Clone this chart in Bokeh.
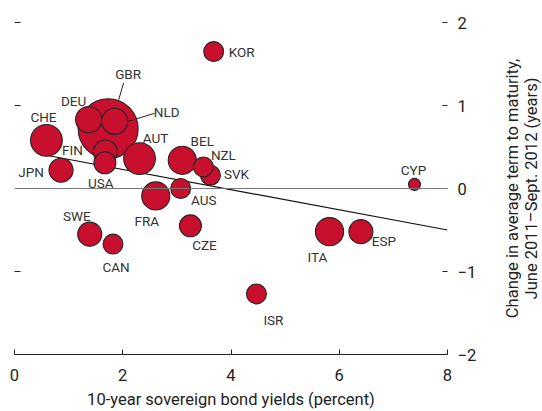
from bokeh.plotting import figure
from bokeh.models import ColumnDataSource, LinearAxis, FixedTicker, Span, Range1d
from bokeh.layouts import row
from bokeh.embed import file_html
from bokeh.resources import INLINE
from bokeh.core.properties import value
import math

# ---- data ----
countries = ["GBR", "CHE", "AUT", "FRA", "BEL", "ITA", "DEU", "NLD", "FIN", "JPN", "SWE",
             "ESP", "USA", "CZE", "KOR", "SVK", "NZL", "AUS", "CAN", "ISR", "CYP"]
bond_yields = [1.73, 0.59, 2.31, 2.61, 3.10, 5.82, 1.37, 1.85, 1.68, 0.86, 1.39,
               6.40, 1.67, 3.25, 3.68, 3.62, 3.49, 3.07, 1.82, 4.47, 7.39]
maturity_change = [0.72, 0.58, 0.36, -0.09, 0.34, -0.52, 0.83, 0.81, 0.44, 0.22, -0.55,
                   -0.52, 0.31, -0.45, 1.65, 0.16, 0.26, 0.00, -0.67, -1.27, 0.05]
bubble_weight = [100, 28, 28, 22, 22, 22, 19, 19, 16, 16, 16,
                 16, 13.4, 13.4, 11, 11, 11, 11, 11, 11, 4]
fit_intercept = 0.472
fit_slope = -0.1215
x_ticks = [0, 2, 4, 6, 8]
y_ticks = [-2, -1, 0, 1, 2]
x_title = "10-year sovereign bond yields (percent)"
y_title = "Change in average term to maturity,\nJune 2011\u2013Sept. 2012 (years)"

# label placement (screen px offsets from bubble centre; +dy = down)
label_offsets = {
    "KOR": (28, 0), "GBR": (20, -55), "DEU": (-15, -19), "NLD": (52, -9), "CHE": (-3, -23),
    "FIN": (-33, -2), "USA": (-4, 20), "JPN": (-30, 2), "AUT": (16, -21), "BEL": (20, -19),
    "NZL": (20, -12), "SVK": (26, -1), "AUS": (23, 11), "FRA": (-9, 25), "SWE": (-13, -18),
    "CAN": (3, 23), "CZE": (14, 19), "ISR": (17, 26), "ITA": (-12, 25), "ESP": (23, 9),
    "CYP": (-1, -14),
}

FONT = "Roboto"
RED = "#C8102E"
INK = "#222222"

H = 411
W1 = 500            # main chart width
W2 = 542 - W1       # strip holding the right-hand axis title
ML, MT = 14, 22
FW, FH = 433, 333
MR, MB = W1 - ML - FW, H - MT - FH

p = figure(width=W1, height=H, output_backend="svg", toolbar_location=None,
           x_range=Range1d(0, 8), y_range=Range1d(-2, 2),
           y_axis_location="right", min_border_left=ML, min_border_right=MR,
           min_border_top=MT, min_border_bottom=MB)
p.outline_line_color = None
p.grid.visible = False
p.background_fill_color = "white"
p.border_fill_color = "white"

# x axis
xa = p.xaxis[0]
xa.ticker = FixedTicker(ticks=x_ticks)
xa.major_tick_in = 5
xa.major_tick_out = 0
xa.minor_tick_line_color = None
xa.axis_line_color = INK
xa.major_tick_line_color = INK
xa.major_label_text_font = FONT
xa.major_label_text_font_size = "16.5px"
xa.major_label_text_color = INK
xa.major_label_standoff = 14
xa.axis_label = x_title
xa.axis_label_text_font = FONT
xa.axis_label_text_font_size = "16.5px"
xa.axis_label_text_font_style = "normal"
xa.axis_label_text_color = INK
xa.axis_label_standoff = 6

# right y axis (ticks + numbers)
ya = p.yaxis[0]
ya.ticker = FixedTicker(ticks=y_ticks)
ya.major_tick_in = 5
ya.major_tick_out = 0
ya.minor_tick_line_color = None
ya.axis_line_color = None
ya.major_tick_line_color = INK
ya.major_label_overrides = {-2: "\u22122", -1: "\u22121"}
ya.major_label_text_font = FONT
ya.major_label_text_font_size = "16.5px"
ya.major_label_text_color = INK
ya.major_label_standoff = 10

# left tick marks only
la = LinearAxis(ticker=FixedTicker(ticks=[-1, 1, 2]), major_tick_in=6, major_tick_out=0,
                axis_line_color=None, major_tick_line_color=INK,
                minor_tick_line_color=None,
                major_label_overrides={-1: "", 1: "", 2: ""},
                major_label_standoff=0)
p.add_layout(la, "left")

# zero line
p.add_layout(Span(location=0, dimension="width", line_color="#777777", line_width=1.2))

# fitted line
x0 = min(bond_yields)
x1 = 8
p.line([x0, x1], [fit_intercept + fit_slope * x0, fit_intercept + fit_slope * x1],
       line_color="#111111", line_width=1.2)

# bubbles
sizes = [6 * math.sqrt(w) for w in bubble_weight]
src = ColumnDataSource(dict(x=bond_yields, y=maturity_change, size=sizes, name=countries,
                            dx=[label_offsets[c][0] for c in countries],
                            dy=[label_offsets[c][1] for c in countries]))
p.scatter("x", "y", size="size", source=src, fill_color=RED, line_color=INK,
          line_width=1.1)

# leader lines (GBR, NLD)
ux, uy = 8 / FW, 4 / FH
leaders = {"GBR": ((15.5, -46), (10.5, -29)), "NLD": ((14, 0), (40, -8))}
for c, ((ax_, ay_), (bx_, by_)) in leaders.items():
    i = countries.index(c)
    cx, cy = bond_yields[i], maturity_change[i]
    p.line([cx + ax_ * ux, cx + bx_ * ux], [cy - ay_ * uy, cy - by_ * uy],
           line_color=INK, line_width=1)

p.text("x", "y", text="name", x_offset="dx", y_offset="dy", source=src,
       text_font=value(FONT), text_font_size="13.5px", text_color="#333333",
       text_align="center", text_baseline="middle")

# narrow strip on the right: its left-axis title reads bottom to top
q = figure(width=W2, height=H, output_backend="svg", toolbar_location=None,
           x_range=Range1d(0, 1), y_range=Range1d(-2, 2), x_axis_location=None,
           y_axis_location="left", min_border_left=0, min_border_right=0,
           min_border_top=MT, min_border_bottom=MB)
q.outline_line_color = None
q.grid.visible = False
q.border_fill_color = "white"
q.background_fill_color = "white"
qa = q.yaxis[0]
qa.ticker = FixedTicker(ticks=[])
qa.axis_line_color = None
qa.major_tick_line_color = None
qa.minor_tick_line_color = None
qa.major_tick_in = 0
qa.major_tick_out = 0
qa.major_label_standoff = 0
qa.axis_label = y_title
qa.axis_label_standoff = 0
qa.axis_label_text_font = FONT
qa.axis_label_text_font_size = "16.5px"
qa.axis_label_text_font_style = "normal"
qa.axis_label_text_color = INK
qa.axis_label_text_line_height = 0.95

layout = row(p, q, spacing=0)
open("out.html", "w").write(file_html(layout, INLINE))
